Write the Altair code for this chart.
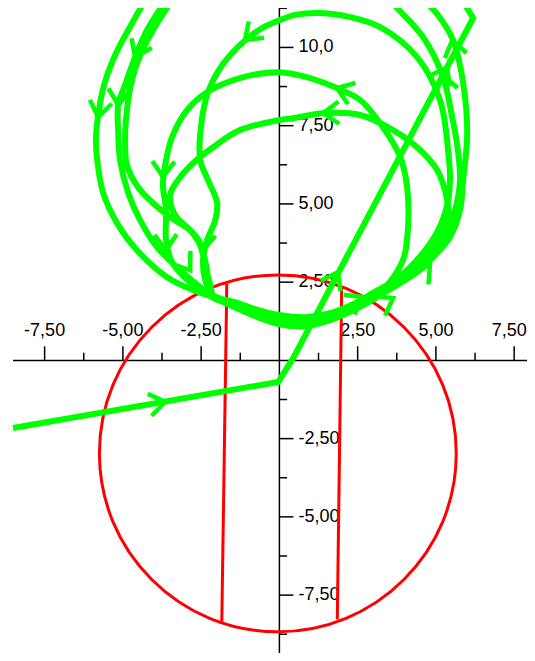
import altair as alt
import pandas as pd

# ---------------- view (data units) ----------------
X_DOMAIN = [-8.67, 7.91]
Y_DOMAIN = [-9.35, 11.26]
AXIS_X_START = -8.51

# ---------------- axes ----------------
X_MAJOR = [-7.5, -5.0, -2.5, 2.5, 5.0, 7.5]
X_MINOR = [-6.25, -3.75, -1.25, 1.25, 3.75, 6.25]
X_LABELS = ["-7,50", "-5,00", "-2,50", "2,50", "5,00", "7,50"]
Y_MAJOR = [-7.5, -5.0, -2.5, 2.5, 5.0, 7.5, 10.0]
Y_MINOR = [-8.75, -6.25, -3.75, -1.25, 1.25, 3.75, 6.25, 8.75, 11.25]
Y_LABELS = ["-7,50", "-5,00", "-2,50", "2,50", "5,00", "7,50", "10,0"]
MAJOR_LEN = 0.45
MINOR_LEN = 0.245

# ---------------- red circle and chords ----------------
CIRCLE_X = [5.65, 5.22, 3.98, 2.13, -0.05, -2.23, -4.08, -5.32, -5.75, -5.32, -4.08, -2.23, -0.05, 2.13, 3.98, 5.22]
CIRCLE_Y = [-2.97, -0.79, 1.06, 2.30, 2.73, 2.30, 1.06, -0.79, -2.97, -5.15, -7.00, -8.24, -8.67, -8.24, -7.00, -5.15]
CHORD_X1 = [-1.68, 1.99]
CHORD_Y1 = [2.44, 2.35]
CHORD_X2 = [-1.84, 1.85]
CHORD_Y2 = [-8.35, -8.27]

# ---------------- green trajectory ----------------
ENTRY_X = [-8.51, -0.04, 0.44, 6.19, 5.84]
ENTRY_Y = [-2.16, -0.69, 0.07, 10.94, 11.51]

L1_X = [-4.29, -4.83, -5.25, -5.60, -5.79, -5.86, -5.82, -5.63, -5.19, -4.55, -3.59, -2.76]
L1_Y = [11.51, 10.55, 9.75, 8.80, 7.84, 7.04, 6.40, 5.35, 4.39, 3.52, 2.66, 2.25]
L2_X = [-3.62, -4.23, -4.61, -4.93, -5.15, -5.15, -5.09, -4.83, -4.45, -3.91, -3.17, -2.53]
L2_Y = [11.51, 10.55, 9.69, 8.80, 8.16, 7.36, 6.40, 5.35, 4.48, 3.62, 2.88, 2.34]
L3_X = [-3.43, -4.04, -4.45, -4.71, -4.87, -4.93, -4.87, -4.52, -4.04, -3.49, -2.85, -2.53, -2.34]
L3_Y = [11.51, 10.55, 9.75, 8.96, 8.00, 7.04, 6.24, 5.54, 5.03, 4.58, 4.16, 3.75, 3.04]

BAND_X = [-2.12, -1.42, -0.78, 0.0, 0.82, 1.62, 2.42, 3.22]
BAND_A_Y = [2.02, 1.70, 1.42, 1.16, 1.10, 1.29, 1.64, 2.09]
BAND_B_Y = [2.02, 1.77, 1.51, 1.29, 1.22, 1.38, 1.73, 2.18]
BAND_C_Y = [2.09, 1.86, 1.64, 1.45, 1.38, 1.51, 1.83, 2.28]

R_B_X = [4.01, 4.81, 5.45, 5.77, 5.87, 6.00, 5.87, 5.55, 5.07, 4.62]
R_B_Y = [2.57, 3.20, 3.94, 4.80, 5.76, 7.26, 8.86, 10.23, 11.03, 11.51]
R_A_X = [3.95, 4.72, 5.29, 5.61, 5.77, 5.68, 5.52, 5.23, 4.59, 3.76, 3.54]
R_A_Y = [2.63, 3.27, 4.00, 4.80, 5.76, 6.88, 7.77, 9.05, 10.33, 11.26, 11.51]

ARC11_R_X = [3.86, 4.50, 5.04, 5.36, 5.45, 5.39, 5.13, 4.40, 3.22, 2.26, 1.30, 0.50, 0.0]
ARC11_R_Y = [2.69, 3.33, 4.10, 4.96, 5.76, 6.72, 8.32, 9.69, 10.65, 10.97, 11.10, 11.04, 10.87]
ARC11_L_X = [-0.55, -1.16, -1.83, -2.28, -2.50, -2.53, -2.28, -1.99, -2.05, -2.31, -2.44, -2.37]
ARC11_L_Y = [10.62, 10.17, 9.43, 8.57, 7.52, 6.40, 5.76, 5.03, 4.48, 3.84, 3.20, 2.57]

ARC92_R_X = [3.69, 3.98, 4.11, 4.08, 3.86, 3.31, 2.58, 1.84, 0.98, 0.0]
ARC92_R_Y = [2.73, 3.30, 4.26, 5.54, 6.50, 7.45, 8.32, 8.70, 9.02, 9.21]
ARC92_L_X = [-1.26, -2.31, -2.95, -3.43, -3.65, -3.72, -3.62, -3.62, -3.43, -3.01, -2.53]
ARC92_L_Y = [9.02, 8.57, 8.00, 7.13, 6.24, 5.60, 4.80, 3.84, 3.14, 2.63, 2.25]

ARC78_R_X = [4.01, 4.65, 5.13, 5.39, 5.36, 5.04, 4.40, 3.63, 2.58, 1.40, 0.44, 0.0]
ARC78_R_Y = [2.73, 3.36, 4.00, 4.64, 5.12, 6.08, 6.81, 7.36, 7.84, 7.90, 7.74, 7.68]
ARC78_L_X = [-1.26, -2.12, -2.76, -3.24, -3.49, -3.33, -2.85, -2.53, -2.37, -2.21]
ARC78_L_Y = [7.36, 6.81, 6.30, 5.76, 5.28, 4.64, 4.16, 3.68, 3.04, 2.41]

END_X = [4.01, 4.81]
END_Y = [2.57, 3.14]

ARROW_X = [-3.65, 1.87, 5.36, -5.79, -5.15, -4.61, -3.72, -3.62, -2.44, -2.85, -1.10, 1.84, 1.40, 4.81, 3.63, 2.67, 5.52, 5.23]
ARROW_Y = [-1.33, 2.82, 9.37, 7.77, 8.16, 9.69, 5.86, 3.52, 3.52, 2.88, 10.23, 8.70, 7.90, 3.04, 1.99, 2.02, 10.23, 9.11]
ARROW_ANGLE = [80, 28, 28, 190, 185, 205, 182, 178, 185, 145, 227, 290, 268, 40, 60, 62, 347, 347]

GREEN = "#00ff00"
RED = "#ff0000"
FONT = "Liberation Sans"


def piece(*parts):
    xs, ys = [], []
    for px, py in parts:
        xs += list(px)
        ys += list(py)
    return xs, ys


segments = {
    1: piece((L1_X, L1_Y), (BAND_X, BAND_A_Y), (R_B_X, R_B_Y)),
    2: piece((L2_X, L2_Y), (BAND_X, BAND_B_Y), (R_A_X, R_A_Y)),
    3: piece((L3_X, L3_Y), (BAND_X, BAND_C_Y), (ARC11_R_X, ARC11_R_Y), (ARC11_L_X, ARC11_L_Y),
             (BAND_X, BAND_B_Y), (ARC92_R_X, ARC92_R_Y), (ARC92_L_X, ARC92_L_Y),
             (BAND_X, BAND_A_Y), (ARC78_R_X, ARC78_R_Y), (ARC78_L_X, ARC78_L_Y),
             (BAND_X, BAND_C_Y), (END_X, END_Y)),
}
rows = []
for sid, (xs, ys) in segments.items():
    for i, (a, b) in enumerate(zip(xs, ys)):
        rows.append({"seg": sid, "ord": i, "x": a, "y": b})
loops_df = pd.DataFrame(rows)
entry_df = pd.DataFrame({"ord": range(len(ENTRY_X)), "x": ENTRY_X, "y": ENTRY_Y})
circle_df = pd.DataFrame({"ord": range(len(CIRCLE_X)), "x": CIRCLE_X, "y": CIRCLE_Y})
chord_df = pd.DataFrame({"x": CHORD_X1, "y": CHORD_Y1, "x2": CHORD_X2, "y2": CHORD_Y2})
arrow_df = pd.DataFrame({"x": ARROW_X, "y": ARROW_Y, "ang": ARROW_ANGLE})

axis_df = pd.DataFrame({"x": [AXIS_X_START, 0.0], "y": [0.0, Y_DOMAIN[0]],
                        "x2": [X_DOMAIN[1], 0.0], "y2": [0.0, Y_DOMAIN[1]]})
tick_rows = []
for v in X_MAJOR:
    tick_rows.append({"x": v, "y": 0.0, "x2": v, "y2": MAJOR_LEN})
for v in X_MINOR:
    tick_rows.append({"x": v, "y": 0.0, "x2": v, "y2": MINOR_LEN})
for v in Y_MAJOR:
    tick_rows.append({"x": 0.0, "y": v, "x2": MAJOR_LEN, "y2": v})
for v in Y_MINOR:
    tick_rows.append({"x": 0.0, "y": v, "x2": MINOR_LEN, "y2": v})
tick_df = pd.DataFrame(tick_rows)
xlab_df = pd.DataFrame({"x": X_MAJOR[:-1], "y": [0.0] * (len(X_MAJOR) - 1), "t": X_LABELS[:-1]})
xlab_last_df = pd.DataFrame({"x": X_MAJOR[-1:], "y": [0.0], "t": X_LABELS[-1:]})
ylab_df = pd.DataFrame({"x": [0.0] * len(Y_MAJOR), "y": Y_MAJOR, "t": Y_LABELS})

xs = alt.Scale(domain=X_DOMAIN, nice=False, zero=False)
ys = alt.Scale(domain=Y_DOMAIN, nice=False, zero=False)
X = alt.X("x:Q", scale=xs, axis=None)
Y = alt.Y("y:Q", scale=ys, axis=None)

axes = alt.Chart(axis_df).mark_rule(color="black", strokeWidth=1.5).encode(X, Y, x2="x2:Q", y2="y2:Q")
ticks = alt.Chart(tick_df).mark_rule(color="black", strokeWidth=1.5).encode(X, Y, x2="x2:Q", y2="y2:Q")
xlabels = alt.Chart(xlab_df).mark_text(font=FONT, fontSize=18, align="center", baseline="alphabetic",
                                       dy=-24, color="black").encode(X, Y, text="t:N")
xlabel_last = alt.Chart(xlab_last_df).mark_text(font=FONT, fontSize=18, align="center", baseline="alphabetic",
                                                dy=-24, dx=-5, color="black").encode(X, Y, text="t:N")
ylabels = alt.Chart(ylab_df).mark_text(font=FONT, fontSize=18, align="left", baseline="middle",
                                       dx=19, color="black").encode(X, Y, text="t:N")

circle = alt.Chart(circle_df).mark_line(color=RED, strokeWidth=3, interpolate="cardinal-closed",
                                        tension=0).encode(X, Y, order="ord:Q")
chords = alt.Chart(chord_df).mark_rule(color=RED, strokeWidth=3).encode(X, Y, x2="x2:Q", y2="y2:Q")

entry = alt.Chart(entry_df).mark_line(color=GREEN, strokeWidth=6, clip=True).encode(X, Y, order="ord:Q")
loops = alt.Chart(loops_df).mark_line(color=GREEN, strokeWidth=6, interpolate="catmull-rom",
                                      clip=True).encode(X, Y, detail="seg:N", order="ord:Q")
arrows = alt.Chart(arrow_df).mark_point(shape="M-1,1.4L0,0L1,1.4", filled=False, size=500,
                                        strokeWidth=4.5, color=GREEN, opacity=1).encode(
    X, Y, angle=alt.Angle("ang:Q", scale=None))

chart = alt.layer(axes, ticks, xlabels, xlabel_last, ylabels, circle, chords, entry, loops, arrows).properties(
    width=519, height=645, padding=0,
    autosize=alt.AutoSizeParams(type="none"),
).configure_view(stroke=None)

chart.save("out.html", embed_options={"renderer": "svg", "actions": False})
